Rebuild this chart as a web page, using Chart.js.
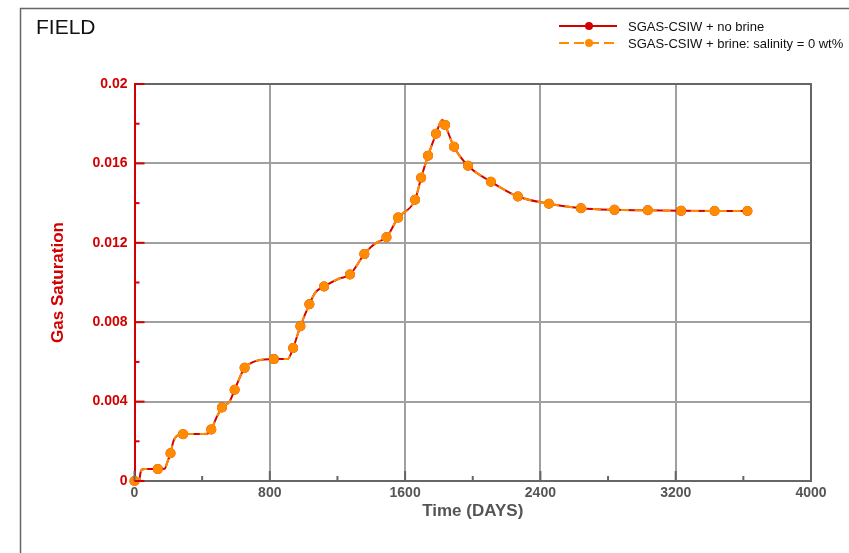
<!DOCTYPE html>
<html>
<head>
<meta charset="utf-8">
<script src="https://cdn.jsdelivr.net/npm/chart.js@4.4.1/dist/chart.umd.min.js"></script>
<style>
  body { margin: 0; background: #fff; }
  canvas { display: block; }
</style>
</head>
<body>
<canvas id="myChart" width="849" height="553"></canvas>
<script>
// Time steps of the curve (days) and field gas saturation
const days = [0, 28, 33, 42, 60, 138, 180, 192, 213, 229, 245, 262, 287, 430, 454, 485, 517, 562, 592, 651,
  680, 720, 824, 906, 938, 981, 1034, 1070, 1121, 1211, 1274, 1359, 1400, 1437, 1490, 1559, 1659, 1695,
  1736, 1783, 1820, 1836, 1889, 1972, 2107, 2267, 2450, 2640, 2838, 3035, 3232, 3430, 3624];
const sgasNoBrine = [0, 0, 0.0003, 0.00056, 0.0006, 0.0006, 0.00062, 0.0009, 0.0014, 0.00198, 0.00222, 0.00232,
  0.00236, 0.00238, 0.0026, 0.0032, 0.0037, 0.004, 0.0046, 0.0057, 0.0059, 0.00605, 0.00614, 0.00614, 0.0067,
  0.0078, 0.0089, 0.0095, 0.0098, 0.0102, 0.0104, 0.01143, 0.0118, 0.01203, 0.01228, 0.01327, 0.01417, 0.01528,
  0.01639, 0.01749, 0.0182, 0.01794, 0.01684, 0.01588, 0.01508, 0.01433, 0.01397, 0.01374, 0.01366, 0.01364,
  0.01361, 0.0136, 0.0136];
// brine with 0 wt% salinity gives the same curve
const sgasBrine0 = [0, 0, 0.0003, 0.00056, 0.0006, 0.0006, 0.00062, 0.0009, 0.0014, 0.00198, 0.00222, 0.00232,
  0.00236, 0.00238, 0.0026, 0.0032, 0.0037, 0.004, 0.0046, 0.0057, 0.0059, 0.00605, 0.00614, 0.00614, 0.0067,
  0.0078, 0.0089, 0.0095, 0.0098, 0.0102, 0.0104, 0.01143, 0.0118, 0.01203, 0.01228, 0.01327, 0.01417, 0.01528,
  0.01639, 0.01749, 0.0182, 0.01794, 0.01684, 0.01588, 0.01508, 0.01433, 0.01397, 0.01374, 0.01366, 0.01364,
  0.01361, 0.0136, 0.0136];
// report steps that get a symbol
const markerDays = [0, 138, 213, 287, 454, 517, 592, 651, 824, 938, 981, 1034, 1121, 1274, 1359, 1490, 1559,
  1659, 1695, 1736, 1783, 1836, 1889, 1972, 2107, 2267, 2450, 2640, 2838, 3035, 3232, 3430, 3624];

const seriesNames = ['SGAS-CSIW + no brine', 'SGAS-CSIW + brine: salinity = 0 wt%'];
const xTicks = [0, 800, 1600, 2400, 3200, 4000];
const yTicks = [0, 0.004, 0.008, 0.012, 0.016, 0.02];

const RED = '#d40000';
const ORANGE = '#ff8c00';
const FRAME = '#666';

const toPoints = (ys) => days.map((d, i) => ({ x: d, y: ys[i] }));
const markerRadius = (ctx) => markerDays.includes(days[ctx.dataIndex]) ? 4 : 0;

const isMajor = (list, v) => list.some(t => Math.abs(t - v) < 1e-9);

// frame, inward ticks, title and legend
const decorations = {
  id: 'decorations',
  afterDraw(chart) {
    const ctx = chart.ctx;
    const { left, right, top, bottom } = chart.chartArea;
    const xs = chart.scales.x, ys = chart.scales.y;
    ctx.save();

    // outer frame
    ctx.strokeStyle = FRAME;
    ctx.lineWidth = 1.5;
    ctx.beginPath();
    ctx.moveTo(20.5, 553);
    ctx.lineTo(20.5, 8.5);
    ctx.lineTo(849, 8.5);
    ctx.stroke();

    // top and right plot borders
    ctx.lineWidth = 2;
    ctx.beginPath();
    ctx.moveTo(left, top);
    ctx.lineTo(right, top);
    ctx.lineTo(right, bottom);
    ctx.stroke();

    // x ticks pointing into the plot
    xs.ticks.forEach(t => {
      const px = xs.getPixelForValue(t.value);
      const len = isMajor(xTicks, t.value) ? 10 : 5;
      ctx.beginPath();
      ctx.moveTo(px, bottom);
      ctx.lineTo(px, bottom - len);
      ctx.stroke();
    });

    // y ticks pointing into the plot
    ctx.strokeStyle = RED;
    ys.ticks.forEach(t => {
      const py = ys.getPixelForValue(t.value);
      const len = isMajor(yTicks, t.value) ? 10 : 5;
      ctx.beginPath();
      ctx.moveTo(left, py);
      ctx.lineTo(left + len, py);
      ctx.stroke();
    });

    // FIELD label
    ctx.fillStyle = '#111';
    ctx.font = '21px "Liberation Sans", Arial, sans-serif';
    ctx.textBaseline = 'alphabetic';
    ctx.textAlign = 'left';
    ctx.fillText('FIELD', 36, 34);

    // legend
    const entries = [
      { color: RED, dash: [], y: 26 },
      { color: ORANGE, dash: [10, 5], y: 43 }
    ];
    ctx.font = '13px "Liberation Sans", Arial, sans-serif';
    ctx.textBaseline = 'middle';
    entries.forEach((e, i) => {
      ctx.strokeStyle = e.color;
      ctx.lineWidth = 2;
      ctx.setLineDash(e.dash);
      ctx.beginPath();
      ctx.moveTo(559, e.y);
      ctx.lineTo(617, e.y);
      ctx.stroke();
      ctx.setLineDash([]);
      ctx.fillStyle = e.color;
      ctx.beginPath();
      ctx.arc(589, e.y, 4, 0, Math.PI * 2);
      ctx.fill();
      ctx.fillStyle = '#111';
      ctx.fillText(seriesNames[i], 628, e.y + 1);
    });
    ctx.restore();
  }
};

const ctx = document.getElementById('myChart').getContext('2d');

const myChart = new Chart(ctx, {
  type: 'scatter',
  data: {
    datasets: [{
      label: seriesNames[1],
      data: toPoints(sgasBrine0),
      showLine: true,
      clip: false,
      borderColor: ORANGE,
      borderWidth: 2,
      borderDash: [8, 6],
      backgroundColor: ORANGE,
      pointBackgroundColor: ORANGE,
      pointBorderColor: ORANGE,
      pointRadius: markerRadius,
      cubicInterpolationMode: 'monotone',
      order: 1
    }, {
      label: seriesNames[0],
      data: toPoints(sgasNoBrine),
      showLine: true,
      clip: false,
      borderColor: RED,
      borderWidth: 2,
      backgroundColor: RED,
      pointBackgroundColor: RED,
      pointBorderColor: RED,
      pointRadius: markerRadius,
      cubicInterpolationMode: 'monotone',
      order: 2
    }]
  },
  options: {
    responsive: false,
    animation: false,
    layout: { padding: { left: 44, top: 84, right: 38, bottom: 27 } },
    plugins: {
      legend: { display: false },
      tooltip: { enabled: false }
    },
    scales: {
      x: {
        type: 'linear',
        min: 0,
        max: 4000,
        afterFit: (s) => { s.height = 45; },
        ticks: {
          stepSize: 400,
          padding: 4,
          color: '#555',
          font: { family: '"Liberation Sans", Arial', size: 14, weight: 'bold' },
          callback: (v) => isMajor(xTicks, v) ? String(v) : ''
        },
        grid: {
          drawTicks: false,
          lineWidth: 2,
          color: (c) => isMajor(xTicks, c.tick.value) ? '#a0a0a0' : 'rgba(0,0,0,0)'
        },
        border: { color: FRAME, width: 2 },
        title: {
          display: true,
          text: 'Time (DAYS)',
          color: '#555',
          font: { family: '"Liberation Sans", Arial', size: 17, weight: 'bold' }
        }
      },
      y: {
        min: 0,
        max: 0.02,
        afterFit: (s) => { s.width = 90.5; },
        ticks: {
          stepSize: 0.002,
          padding: 7,
          color: RED,
          font: { family: '"Liberation Sans", Arial', size: 14, weight: 'bold' },
          callback: (v) => isMajor(yTicks, v) ? String(+v.toFixed(3)) : ''
        },
        grid: {
          drawTicks: false,
          lineWidth: 2,
          color: (c) => isMajor(yTicks, c.tick.value) ? '#a0a0a0' : 'rgba(0,0,0,0)'
        },
        border: { color: RED, width: 2 },
        title: {
          display: true,
          text: 'Gas Saturation',
          color: RED,
          font: { family: '"Liberation Sans", Arial', size: 17, weight: 'bold' }
        }
      }
    }
  },
  plugins: [decorations]
});
</script>
</body>
</html>
